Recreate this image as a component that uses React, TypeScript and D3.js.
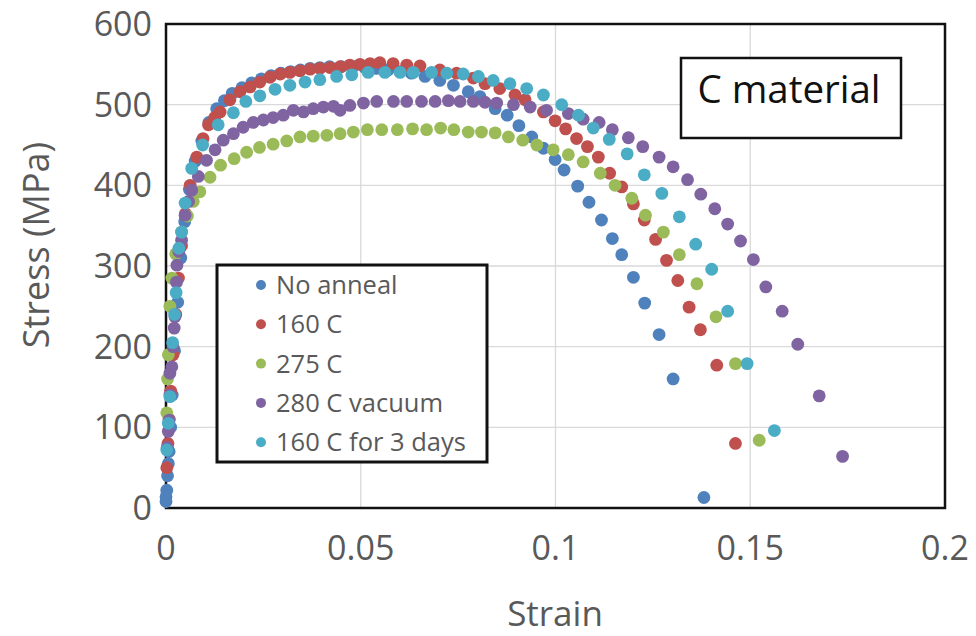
import React from "react";
import * as d3 from "d3";

type Pt = [number, number];

const seriesNames = ["No anneal", "160 C", "275 C", "280 C vacuum", "160 C for 3 days"];
const seriesColors = ["#4F81BD", "#C0504D", "#9BBB59", "#8064A2", "#4BACC6"];

const noAnneal: Pt[] = [
  [0.0, 8], [0.0, 14], [0.0002, 22], [0.0004, 40], [0.0006, 55], [0.0008, 70], [0.0012, 100],
  [0.0016, 140], [0.0022, 195], [0.003, 255], [0.0038, 310], [0.0048, 355], [0.006, 395],
  [0.0075, 430], [0.0092, 455], [0.011, 478], [0.013, 495], [0.015, 505], [0.017, 514],
  [0.0195, 521], [0.022, 527], [0.0245, 532], [0.027, 536], [0.0295, 539], [0.032, 541],
  [0.0345, 543], [0.037, 545], [0.0395, 546], [0.042, 547], [0.045, 547], [0.048, 547],
  [0.051, 546], [0.054, 545], [0.057, 543], [0.06, 541], [0.063, 539], [0.0665, 535],
  [0.0703, 530], [0.0738, 524], [0.0776, 516], [0.0806, 510], [0.0845, 495], [0.0876, 487],
  [0.0906, 474], [0.0939, 460], [0.0969, 446], [0.0999, 432], [0.1022, 419], [0.1057, 399],
  [0.1086, 379], [0.1118, 357], [0.1146, 334], [0.117, 314], [0.12, 286], [0.1229, 254],
  [0.1266, 215], [0.1302, 160], [0.1381, 13],
];

const c160: Pt[] = [
  [0.0002, 50], [0.0005, 80], [0.0008, 110], [0.0012, 145], [0.0018, 190], [0.0025, 240],
  [0.0032, 285], [0.004, 325], [0.005, 365], [0.0062, 400], [0.0079, 435], [0.0095, 458],
  [0.0109, 475], [0.0125, 484], [0.0139, 491], [0.0164, 506], [0.019, 516], [0.0216, 522],
  [0.0241, 528], [0.0267, 534], [0.0293, 538], [0.0318, 540], [0.0344, 542], [0.037, 544],
  [0.0395, 545], [0.0421, 546], [0.0447, 547], [0.0472, 549], [0.0498, 550], [0.0524, 551],
  [0.0549, 552], [0.0583, 551], [0.0618, 549], [0.0652, 548], [0.0703, 543], [0.0746, 539],
  [0.0789, 533], [0.0819, 526], [0.0857, 520], [0.0896, 512], [0.0922, 506], [0.0969, 491],
  [0.0999, 480], [0.1026, 470], [0.1054, 458], [0.1082, 448], [0.111, 435], [0.1139, 415],
  [0.117, 398], [0.12, 377], [0.1228, 357], [0.1257, 333], [0.1285, 307], [0.1314, 282],
  [0.1343, 249], [0.1372, 221], [0.1414, 177], [0.1462, 80],
];

const c275: Pt[] = [
  [0.0002, 118], [0.0004, 160], [0.0006, 190], [0.001, 250], [0.0015, 285], [0.0025, 315],
  [0.004, 342], [0.0055, 362], [0.007, 380], [0.0087, 392], [0.0113, 410], [0.014, 425],
  [0.0175, 433], [0.0207, 441], [0.024, 447], [0.0275, 451], [0.031, 455], [0.0344, 460],
  [0.0378, 461], [0.0413, 462], [0.0447, 464], [0.0481, 466], [0.0517, 469], [0.0554, 469],
  [0.0594, 469], [0.0633, 470], [0.0669, 469], [0.0705, 471], [0.0739, 469], [0.0776, 466],
  [0.081, 466], [0.0845, 465], [0.0879, 460], [0.0916, 456], [0.0952, 450], [0.0994, 444],
  [0.1033, 438], [0.1071, 429], [0.1115, 415], [0.1153, 400], [0.1196, 384], [0.1231, 363],
  [0.1277, 342], [0.1318, 314], [0.1363, 278], [0.1412, 237], [0.1462, 179], [0.1523, 84],
];

const c280vac: Pt[] = [
  [0.0003, 75], [0.0006, 95], [0.0008, 109], [0.001, 140], [0.001, 167], [0.0015, 175],
  [0.0018, 200], [0.0021, 223], [0.0023, 237], [0.0027, 280], [0.0028, 301], [0.0033, 318],
  [0.004, 332], [0.0049, 363], [0.0058, 380], [0.0066, 394], [0.0083, 411], [0.0104, 431],
  [0.0126, 444], [0.0147, 456], [0.0173, 464], [0.0198, 472], [0.0224, 478], [0.025, 481],
  [0.0275, 484], [0.0301, 487], [0.0327, 493], [0.0353, 491], [0.0378, 495], [0.0404, 497],
  [0.043, 498], [0.0447, 493], [0.0472, 499], [0.0507, 502], [0.0541, 504], [0.0584, 504],
  [0.0618, 504], [0.0656, 504], [0.0691, 504], [0.0725, 505], [0.0755, 504], [0.0789, 504],
  [0.0819, 503], [0.0849, 502], [0.0892, 500], [0.0935, 497], [0.0977, 493], [0.1033, 489],
  [0.1071, 482], [0.1112, 478], [0.1146, 469], [0.1187, 459], [0.1224, 448], [0.1266, 435],
  [0.1302, 423], [0.1339, 407], [0.1373, 389], [0.1409, 371], [0.1442, 352], [0.1475, 331],
  [0.1508, 308], [0.154, 274], [0.1582, 244], [0.1622, 203], [0.1677, 139], [0.1737, 64],
];

const c160days: Pt[] = [
  [0.0002, 72], [0.0006, 105], [0.001, 138], [0.0017, 205], [0.0022, 240], [0.0026, 267],
  [0.0033, 322], [0.004, 342], [0.0049, 378], [0.0066, 421], [0.0094, 450], [0.0134, 475],
  [0.0173, 490], [0.0205, 504], [0.0241, 511], [0.028, 519], [0.0318, 524], [0.0357, 528],
  [0.0395, 531], [0.0438, 535], [0.0477, 537], [0.0519, 540], [0.0562, 540], [0.0601, 540],
  [0.0635, 540], [0.0682, 540], [0.0721, 539], [0.0763, 538], [0.0802, 535], [0.084, 530],
  [0.0883, 526], [0.0926, 520], [0.0969, 512], [0.1016, 500], [0.1059, 487], [0.1097, 471],
  [0.1138, 457], [0.1184, 439], [0.1228, 413], [0.1273, 390], [0.1318, 361], [0.136, 327],
  [0.1401, 296], [0.1442, 244], [0.1492, 179], [0.1562, 96],
];

const allSeries: Pt[][] = [noAnneal, c160, c275, c280vac, c160days];

const xTicks = [0, 0.05, 0.1, 0.15, 0.2];
const xTickLabels = ["0", "0.05", "0.1", "0.15", "0.2"];
const yTicks = [0, 100, 200, 300, 400, 500, 600];

const FONT = "'Open Sans', sans-serif";
const GRAY = "#595959";

export default function App() {
  const W = 976;
  const H = 636;
  const x = d3.scaleLinear().domain([0, 0.2]).range([166, 945]);
  const y = d3.scaleLinear().domain([0, 600]).range([508, 24]);

  const legend = { x: 217, y: 265, w: 270, h: 197 };

  return (
    <svg
      width={W}
      height={H}
      style={{ position: "absolute", left: 0, top: 0, background: "#fff" }}
      xmlns="http://www.w3.org/2000/svg"
    >
      <rect x={0} y={0} width={W} height={H} fill="#fff" />
      {/* gridlines */}
      {yTicks.slice(1, -1).map((t) => (
        <line key={"gy" + t} x1={x(0)} x2={x(0.2)} y1={y(t)} y2={y(t)} stroke="#d9d9d9" strokeWidth={1.3} />
      ))}
      {xTicks.slice(1, -1).map((t) => (
        <line key={"gx" + t} x1={x(t)} x2={x(t)} y1={y(0)} y2={y(600)} stroke="#d9d9d9" strokeWidth={1.3} />
      ))}
      {/* frame */}
      <rect x={x(0)} y={y(600)} width={x(0.2) - x(0)} height={y(0) - y(600)} fill="none" stroke="#111" strokeWidth={2.5} />

      {/* points */}
      {allSeries.map((s, i) => (
        <g key={"s" + i} fill={seriesColors[i]}>
          {s.map((p, j) => (
            <circle key={j} cx={x(p[0])} cy={y(p[1])} r={6.4} />
          ))}
        </g>
      ))}

      {/* y tick labels */}
      {yTicks.map((t) => (
        <text key={"yt" + t} x={152} y={y(t)} dy="0.35em" textAnchor="end" fontFamily={FONT} fontSize={34} fill={GRAY}>
          {t}
        </text>
      ))}
      {/* x tick labels */}
      {xTicks.map((t, i) => (
        <text key={"xt" + t} x={x(t)} y={548} dy="0.35em" textAnchor="middle" fontFamily={FONT} fontSize={34} fill={GRAY}>
          {xTickLabels[i]}
        </text>
      ))}
      {/* axis titles */}
      <text x={555} y={614} dy="0.35em" textAnchor="middle" fontFamily={FONT} fontSize={35} fill={GRAY}>
        Strain
      </text>
      <text
        transform={`translate(36,${245}) rotate(-90)`}
        textAnchor="middle"
        dy="0.35em"
        fontFamily={FONT}
        fontSize={36}
        fill={GRAY}
      >
        Stress (MPa)
      </text>

      {/* legend */}
      <rect x={legend.x} y={legend.y} width={legend.w} height={legend.h} fill="#fff" stroke="#111" strokeWidth={3} />
      {seriesNames.map((n, i) => {
        const cy = 285 + i * 39.3;
        return (
          <g key={"lg" + i}>
            <circle cx={261} cy={cy} r={5} fill={seriesColors[i]} />
            <text x={276} y={cy} dy="0.35em" fontFamily={FONT} fontSize={25.5} fill={GRAY}>
              {n}
            </text>
          </g>
        );
      })}

      {/* annotation box */}
      <rect x={681} y={58} width={220} height={80} fill="#fff" stroke="#111" strokeWidth={2.5} />
      <text x={789} y={103} textAnchor="middle" fontFamily={FONT} fontSize={38.5} fill="#111">
        C material
      </text>
    </svg>
  );
}
